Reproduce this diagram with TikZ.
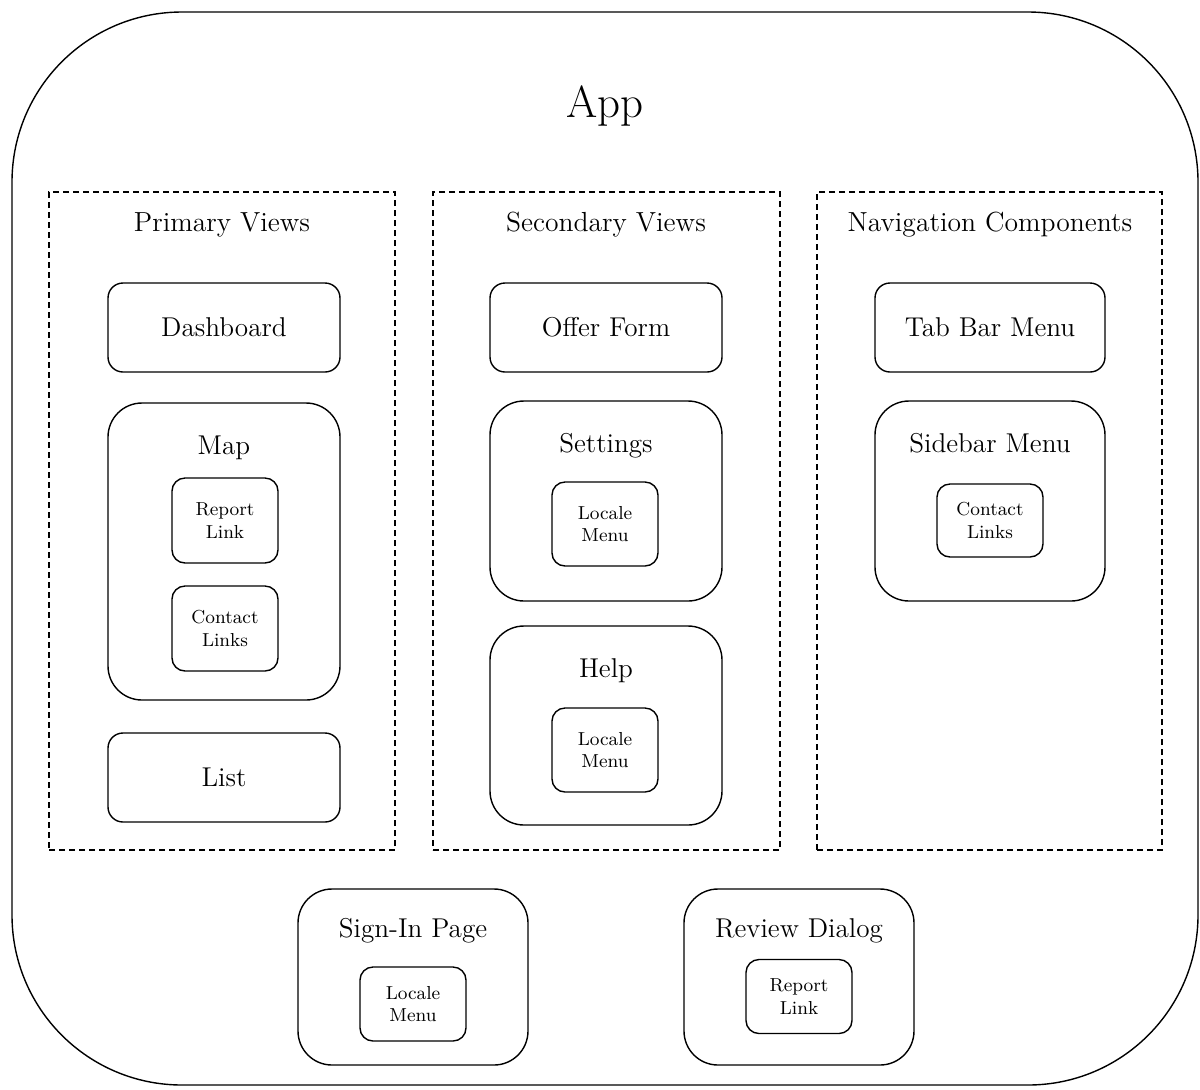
\documentclass[tikz,border=0pt]{standalone}
\usepackage{fontspec}
\begin{document}
\begin{tikzpicture}[x=0.5pt,y=-0.5pt,
  appframe/.style={draw, line width=0.7pt, rounded corners=85pt,
    minimum width=593pt, minimum height=536.5pt, inner sep=0pt},
  group/.style={draw, line width=0.55pt, dash pattern=on 3pt off 2pt,
    minimum width=173pt, minimum height=329pt, inner sep=0pt},
  grouptitle/.style={anchor=base, font=\fontsize{13.8}{16}\selectfont},
  viewbox/.style={draw, line width=0.7pt, rounded corners=7.5pt,
    minimum width=116pt, minimum height=44.5pt, inner sep=0pt,
    font=\fontsize{13.6}{16}\selectfont},
  holder/.style={draw, line width=0.7pt, rounded corners=17pt,
    minimum width=116pt, inner sep=0pt},
  holdertitle/.style={anchor=base, font=\fontsize{13.6}{16}\selectfont},
  part/.style={draw, line width=0.7pt, rounded corners=6.5pt,
    minimum width=53pt, minimum height=42pt, inner sep=0pt, align=center,
    font=\fontsize{9.4}{11.3}\selectfont}]
\useasboundingbox (0,0) rectangle (1200,1089);

% application frame
\node[appframe] (app) at (605,548.5) {};
\node[font=\fontsize{22.5}{27}\selectfont] (apptitle) at (605,106) {App};

% dashed groups
\node[group] (primary) at (222,521) {};
\node[group, minimum width=173.5pt] (secondary) at (606.5,521) {};
\node[group, minimum width=172.5pt] (navigation) at (989.5,521) {};
\node[grouptitle] (primaryT) at (222,231) {Primary Views};
\node[grouptitle] (secondaryT) at (606,231) {Secondary Views};
\node[grouptitle] (navigationT) at (990,231) {Navigation Components};

% primary views
\node[viewbox] (dashboard) at (224,327.5) {Dashboard};
\node[holder, minimum height=148.5pt] (map) at (224,551.5) {};
\node[holdertitle] (mapT) at (224,454) {Map};
\node[part, minimum height=42.5pt] (mapreport) at (225,520.5) {Report\\Link};
\node[part, minimum height=42.5pt] (mapcontact) at (225,628.5) {Contact\\Links};
\node[viewbox] (list) at (224,777.5) {List};

% secondary views
\node[viewbox] (offer) at (606,327.5) {Offer Form};
\node[holder, minimum height=100pt] (settings) at (606,501) {};
\node[holdertitle] (settingsT) at (606,452) {Settings};
\node[part] (settingslocale) at (605,524) {Locale\\Menu};
\node[holder, minimum height=99.5pt] (help) at (606,725.5) {};
\node[holdertitle] (helpT) at (606,677) {Help};
\node[part] (helplocale) at (605,750) {Locale\\Menu};

% navigation components
\node[viewbox, minimum width=115pt] (tabbar) at (990,327.5) {Tab Bar Menu};
\node[holder, minimum width=115pt, minimum height=100pt] (sidebar) at (990,501) {};
\node[holdertitle] (sidebarT) at (990,452) {Sidebar Menu};
\node[part, minimum height=36.5pt] (sidebarcontact) at (990,520.5) {Contact\\Links};

% standalone screens
\node[holder, minimum width=115pt, minimum height=88pt] (signin) at (413,977) {};
\node[holdertitle] (signinT) at (413,937) {Sign-In Page};
\node[part, minimum height=37pt] (signinlocale) at (413,1004) {Locale\\Menu};
\node[holder, minimum width=115pt, minimum height=88pt] (review) at (799,977) {};
\node[holdertitle] (reviewT) at (799,937) {Review Dialog};
\node[part, minimum height=37pt] (reviewreport) at (799,996.5) {Report\\Link};
\end{tikzpicture}
\end{document}
